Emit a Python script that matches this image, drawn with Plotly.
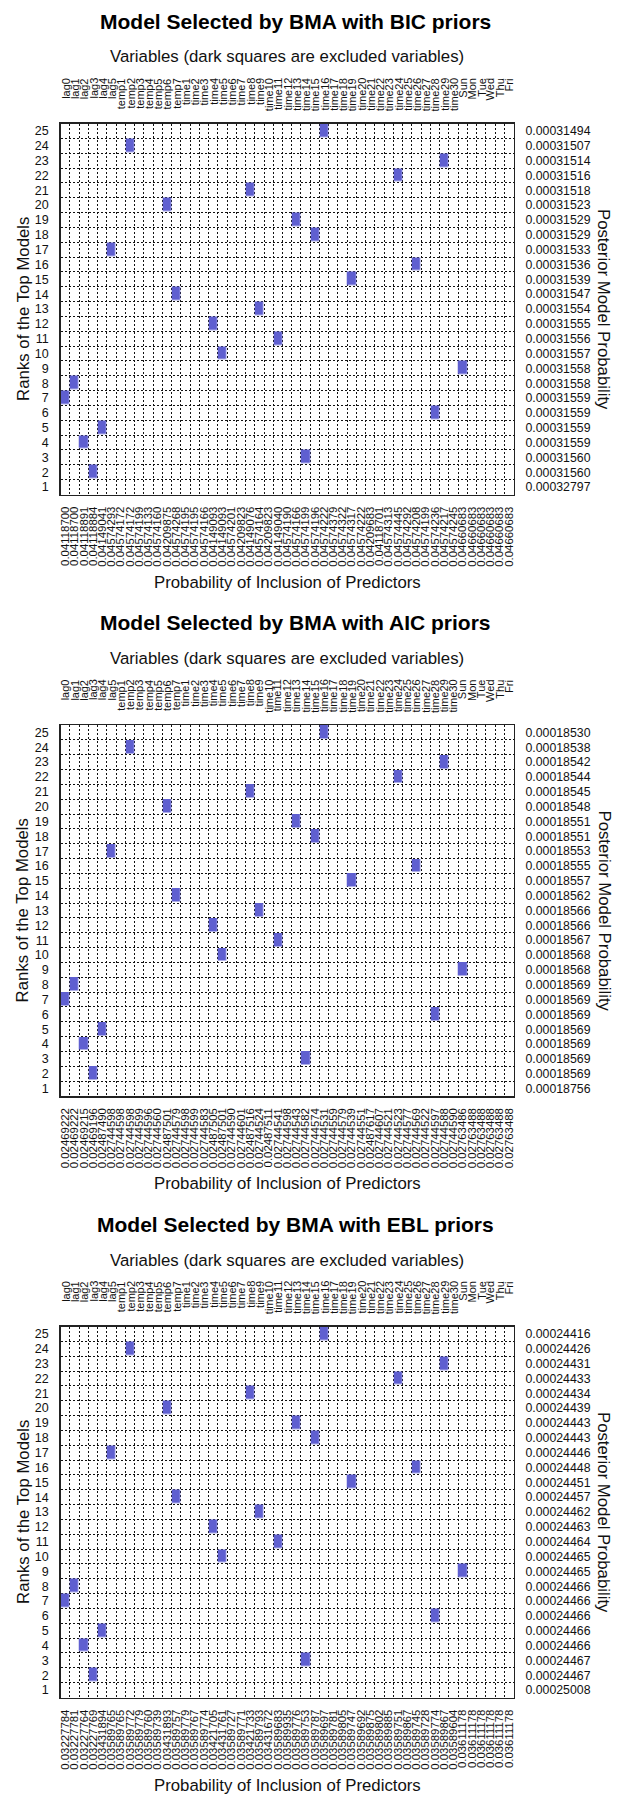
import plotly.graph_objects as go

W, H = 619, 1796

variables = ["lag0", "lag1", "lag2", "lag3", "lag4", "lag5",
             "temp1", "temp2", "temp3", "temp4", "temp5", "temp6", "temp7",
             "time1", "time2", "time3", "time4", "time5", "time6", "time7", "time8", "time9", "time10",
             "time11", "time12", "time13", "time14", "time15", "time16", "time17", "time18", "time19", "time20",
             "time21", "time22", "time23", "time24", "time25", "time26", "time27", "time28", "time29", "time30",
             "Sun", "Mon", "Tue", "Wed", "Thu", "Fri"]

ranks = [1, 2, 3, 4, 5, 6, 7, 8, 9, 10, 11, 12, 13, 14, 15, 16, 17, 18, 19, 20, 21, 22, 23, 24, 25]

# excluded variable (dark square) of the model at each rank (rank 1 excludes none)
excluded_by_rank = ["", "lag3", "time14", "lag2", "lag4", "time28", "lag0", "lag1", "Sun", "time5",
                    "time11", "time4", "time9", "temp7", "time19", "time26", "lag5", "time15", "time13", "temp6",
                    "time8", "time24", "time29", "temp2", "time16"]

# posterior model probabilities, rank 1..25
bic_post = [0.00032797, 0.00031560, 0.00031560, 0.00031559, 0.00031559, 0.00031559, 0.00031559, 0.00031558,
            0.00031558, 0.00031557, 0.00031556, 0.00031555, 0.00031554, 0.00031547, 0.00031539, 0.00031536,
            0.00031533, 0.00031529, 0.00031529, 0.00031523, 0.00031518, 0.00031516, 0.00031514, 0.00031507,
            0.00031494]
aic_post = [0.00018756, 0.00018569, 0.00018569, 0.00018569, 0.00018569, 0.00018569, 0.00018569, 0.00018569,
            0.00018568, 0.00018568, 0.00018567, 0.00018566, 0.00018566, 0.00018562, 0.00018557, 0.00018555,
            0.00018553, 0.00018551, 0.00018551, 0.00018548, 0.00018545, 0.00018544, 0.00018542, 0.00018538,
            0.00018530]
ebl_post = [0.00025008, 0.00024467, 0.00024467, 0.00024466, 0.00024466, 0.00024466, 0.00024466, 0.00024466,
            0.00024465, 0.00024465, 0.00024464, 0.00024463, 0.00024462, 0.00024457, 0.00024451, 0.00024448,
            0.00024446, 0.00024443, 0.00024443, 0.00024439, 0.00024434, 0.00024433, 0.00024431, 0.00024426,
            0.00024416]

# probability of inclusion of each predictor (bottom tick labels)
bic_incl = [0.04118700, 0.04118700, 0.04118891, 0.04118884, 0.04149041, 0.04574293,
            0.04574172, 0.04574172, 0.04574199, 0.04574133, 0.04574160, 0.04209875, 0.04574268,
            0.04574195, 0.04574195, 0.04574166, 0.04149093, 0.04149093, 0.04574201, 0.04209823,
            0.04149076, 0.04574164, 0.04209823, 0.04149040, 0.04574190, 0.04574166, 0.04574199,
            0.04574196, 0.04574222, 0.04574379, 0.04574322, 0.04574317, 0.04574222, 0.04209683,
            0.04118701, 0.04574313, 0.04574445, 0.04574292, 0.04574208, 0.04574199, 0.04574236,
            0.04574217, 0.04574245, 0.04660683, 0.04660683, 0.04660683, 0.04660683, 0.04660683,
            0.04660683]
aic_incl = [0.02469222, 0.02469222, 0.02469215, 0.02469196, 0.02487490, 0.02744598,
            0.02744598, 0.02744598, 0.02744599, 0.02744596, 0.02744560, 0.02487501, 0.02744579,
            0.02744598, 0.02744599, 0.02744583, 0.02487505, 0.02487501, 0.02744590, 0.02744601,
            0.02487516, 0.02744524, 0.02487511, 0.02744541, 0.02744598, 0.02744543, 0.02744582,
            0.02744574, 0.02744531, 0.02744559, 0.02744579, 0.02744539, 0.02744551, 0.02487617,
            0.02744607, 0.02744521, 0.02744523, 0.02744577, 0.02744569, 0.02744522, 0.02744597,
            0.02744588, 0.02744590, 0.02763486, 0.02763488, 0.02763488, 0.02763488, 0.02763488,
            0.02763488]
ebl_incl = [0.03227784, 0.03227781, 0.03227764, 0.03227769, 0.03431894, 0.03589765,
            0.03589765, 0.03589772, 0.03589779, 0.03589760, 0.03589739, 0.03431893, 0.03589757,
            0.03589779, 0.03589767, 0.03589774, 0.03421705, 0.03431761, 0.03589727, 0.03589771,
            0.03421733, 0.03589793, 0.03431672, 0.03589683, 0.03589935, 0.03589776, 0.03589753,
            0.03589787, 0.03589697, 0.03589781, 0.03589805, 0.03589747, 0.03589692, 0.03589875,
            0.03589802, 0.03589885, 0.03589751, 0.03589867, 0.03589745, 0.03589728, 0.03589774,
            0.03589867, 0.03589604, 0.03611178, 0.03611178, 0.03611178, 0.03611178, 0.03611178,
            0.03611178]

panels = [("BIC", bic_incl, bic_post), ("AIC", aic_incl, aic_post), ("EBL", ebl_incl, ebl_post)]

FONT = "Liberation Sans, Arial, sans-serif"
SQ = "#5f5fd0"
GRID = "#111111"
n_var = len(variables)

PERIOD = 601.5
GRID_L, GRID_R = 59.0, 514.0
GRID_T, GRID_B = 123.5, 494.5


def py(px):
    return 1 - px / H


fig = go.Figure()
annotations = []
layout_axes = {}
xc = (GRID_L + GRID_R) / 2 / W

for k, (name, incl, post) in enumerate(panels):
    o = PERIOD * k
    xa = "x" if k == 0 else f"x{k + 1}"
    ya = "y" if k == 0 else f"y{k + 1}"
    yr = f"y{k + 4}"

    z = [[1 if v == excluded_by_rank[i] else None for v in variables] for i in range(len(ranks))]
    fig.add_trace(go.Heatmap(
        x=list(range(n_var)), y=ranks, z=z, xaxis=xa, yaxis=ya,
        colorscale=[[0, SQ], [1, SQ]], zmin=0, zmax=1, showscale=False,
        xgap=0.6, ygap=1.5, hoverinfo="skip"))
    fig.add_trace(go.Scatter(
        x=[0] * len(ranks), y=ranks, xaxis=xa, yaxis=yr, mode="markers",
        marker=dict(opacity=0, size=1), hoverinfo="skip", showlegend=False))

    minor = dict(tickmode="linear", tick0=0.5, dtick=1, showgrid=True,
                 gridcolor=GRID, griddash="2px,2px", gridwidth=1, ticks="")
    xkey = "xaxis" if k == 0 else f"xaxis{k + 1}"
    ykey = "yaxis" if k == 0 else f"yaxis{k + 1}"
    layout_axes[xkey] = dict(
        domain=[GRID_L / W, GRID_R / W], anchor=ya, range=[-0.5, n_var - 0.5],
        tickmode="array", tickvals=list(range(n_var)),
        ticktext=[f"{v:.8f}" for v in incl], tickangle=-90,
        tickfont=dict(family=FONT, size=11.4, color="#111"),
        showgrid=False, zeroline=False, showline=True, mirror=True,
        linecolor="#222", linewidth=1.5, ticks="", ticklabelstandoff=6,
        minor=minor, fixedrange=True)
    layout_axes[ykey] = dict(
        domain=[py(GRID_B + o), py(GRID_T + o)], anchor=xa, range=[0.5, len(ranks) + 0.5],
        tickmode="array", tickvals=ranks, ticktext=[str(r) for r in ranks],
        tickfont=dict(family=FONT, size=12.5, color="#111"),
        showgrid=False, zeroline=False, showline=True, mirror=True,
        linecolor="#222", linewidth=1.5, ticks="", ticklabelstandoff=8,
        minor=minor, fixedrange=True)
    layout_axes[f"yaxis{k + 4}"] = dict(
        overlaying=ya, side="right", anchor=xa, range=[0.5, len(ranks) + 0.5],
        tickmode="array", tickvals=ranks, ticktext=[f"{v:.8f}" for v in post],
        tickfont=dict(family=FONT, size=12.3, color="#111"),
        showgrid=False, zeroline=False, showline=False, ticks="",
        ticklabelstandoff=11, fixedrange=True)

    # titles
    annotations.append(dict(text=f"<b>Model Selected by BMA with {name} priors</b>",
                            x=295 / W, y=py(21 + o), xref="paper", yref="paper", showarrow=False,
                            xanchor="center", yanchor="middle",
                            font=dict(family=FONT, size=21, color="#000")))
    annotations.append(dict(text="Variables (dark squares are excluded variables)",
                            x=xc, y=py(57 + o), xref="paper", yref="paper", showarrow=False,
                            xanchor="center", yanchor="middle",
                            font=dict(family=FONT, size=16.8, color="#111")))
    annotations.append(dict(text="Probability of Inclusion of Predictors",
                            x=xc, y=py(582 + o), xref="paper", yref="paper", showarrow=False,
                            xanchor="center", yanchor="middle",
                            font=dict(family=FONT, size=16.8, color="#111")))
    annotations.append(dict(text="Ranks of the Top Models",
                            x=21 / W, y=py((GRID_T + GRID_B) / 2 + o), xref="paper", yref="paper",
                            showarrow=False, textangle=-90, xanchor="center", yanchor="middle",
                            font=dict(family=FONT, size=16.8, color="#111")))
    annotations.append(dict(text="Posterior Model Probability",
                            x=605 / W, y=py((GRID_T + GRID_B) / 2 + o), xref="paper", yref="paper",
                            showarrow=False, textangle=90, xanchor="center", yanchor="middle",
                            font=dict(family=FONT, size=16.8, color="#111")))
    # variable names on top, top-aligned, reading bottom to top
    for i, v in enumerate(variables):
        annotations.append(dict(text=v, x=i, xref=xa, y=py(77 + o), yref="paper",
                                showarrow=False, textangle=-90, xanchor="center", yanchor="top",
                                borderpad=0,
                                font=dict(family=FONT, size=11, color="#111")))

fig.update_layout(
    width=W, height=H, autosize=False,
    margin=dict(l=0, r=0, t=0, b=0),
    paper_bgcolor="white", plot_bgcolor="white",
    showlegend=False, annotations=annotations,
    **layout_axes)

fig.write_html(
    "out.html",
    config={"displayModeBar": False, "staticPlot": True},
    post_script="document.body.style.margin='0px';document.body.style.padding='0px';"
                "document.body.style.overflow='hidden';")
